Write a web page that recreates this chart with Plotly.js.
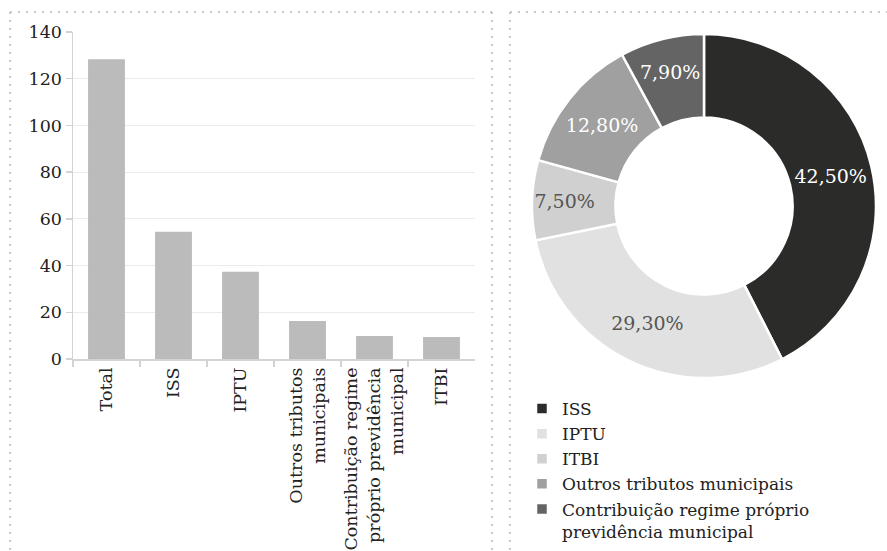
<!DOCTYPE html>
<html>
<head>
<meta charset="utf-8">
<script src="https://cdn.plot.ly/plotly-3.0.1.min.js"></script>
<style>html,body{margin:0;padding:0;background:#fff;}#chart{width:887px;height:551px;}</style>
</head>
<body>
<div id="chart"></div>
<script>
// Bar chart data
const barCategories = ["Total", "ISS", "IPTU", "Outros tributos<br>municipais", "Contribuição regime<br>próprio previdência<br>municipal", "ITBI"];
const barValues = [128.3, 54.5, 37.4, 16.3, 9.8, 9.4];
const yTickValues = [0, 20, 40, 60, 80, 100, 120, 140];

// Donut chart data
const pieLabels = ["ISS", "IPTU", "ITBI", "Outros tributos municipais", "Contribuição regime próprio<br>previdência municipal"];
const pieValues = [42.5, 29.3, 7.5, 12.8, 7.9];
const pieColors = ["#2b2b29", "#e1e1e1", "#d0d0d0", "#a0a0a0", "#646464"];
const pieTextColors = ["#ffffff", "#555555", "#555555", "#ffffff", "#ffffff"];

const W = 887, H = 551;
const px = x => x / W;
const py = y => (H - y) / H;
const FONT = "DejaVu Serif";

const dotted = {color: "#c8c8c8", width: 2, dash: "2px,6px"};
function seg(x0, y0, x1, y1) {
  return {type: "line", xref: "paper", yref: "paper", x0: px(x0), y0: py(y0), x1: px(x1), y1: py(y1), line: dotted, layer: "below"};
}

const data = [
  {
    type: "bar",
    x: barCategories,
    y: barValues,
    marker: {color: "#bbbbbb"},
    xaxis: "x", yaxis: "y",
    showlegend: false,
    hoverinfo: "skip"
  },
  {
    type: "pie",
    labels: pieLabels,
    values: pieValues,
    sort: false,
    direction: "clockwise",
    rotation: 0,
    hole: 0.515,
    marker: {colors: pieColors, line: {color: "#ffffff", width: 2.5}},
    texttemplate: "%{percent:.2%}",
    textposition: "inside",
    insidetextorientation: "horizontal",
    textfont: {family: FONT, size: 19, color: pieTextColors},
    domain: {x: [px(532), px(876)], y: [py(378), py(34)]},
    hoverinfo: "skip"
  }
];

const layout = {
  width: W, height: H,
  margin: {l: 0, r: 0, t: 0, b: 0},
  paper_bgcolor: "#ffffff",
  plot_bgcolor: "#ffffff",
  separators: ", ",
  font: {family: FONT, size: 17.5, color: "#222222"},
  bargap: 0.45,
  xaxis: {
    domain: [px(73), px(475)],
    anchor: "y",
    automargin: false,
    tickangle: -90,
    showline: true, linecolor: "#d3d3d3", linewidth: 1.5,
    ticks: "outside", tickson: "boundaries", ticklen: 6, tickcolor: "#d3d3d3", tickwidth: 1.5,
    showgrid: false,
    tickfont: {family: FONT, size: 17.5, color: "#222222"}
  },
  yaxis: {
    domain: [py(359), py(32)],
    anchor: "x",
    automargin: false,
    range: [0, 140],
    tickvals: yTickValues,
    showline: true, linecolor: "#d3d3d3", linewidth: 1.5,
    ticks: "outside", ticklen: 6, tickcolor: "#d3d3d3", tickwidth: 1.5,
    showgrid: true, gridcolor: "#ebebeb", gridwidth: 1,
    zeroline: false,
    tickfont: {family: FONT, size: 17.5, color: "#222222"}
  },
  showlegend: true,
  legend: {
    x: px(522), xanchor: "left",
    y: py(391), yanchor: "top",
    valign: "top",
    itemwidth: 30,
    tracegroupgap: 0,
    font: {family: FONT, size: 17, color: "#222222"},
    bgcolor: "rgba(0,0,0,0)"
  },
  shapes: [
    seg(10, 12, 492, 12),
    seg(10, 12, 10, 551),
    seg(492, 12, 492, 551),
    seg(510, 12, 887, 12),
    seg(510, 12, 510, 551)
  ]
};

Plotly.newPlot("chart", data, layout, {displayModeBar: false, staticPlot: true});
</script>
</body>
</html>
